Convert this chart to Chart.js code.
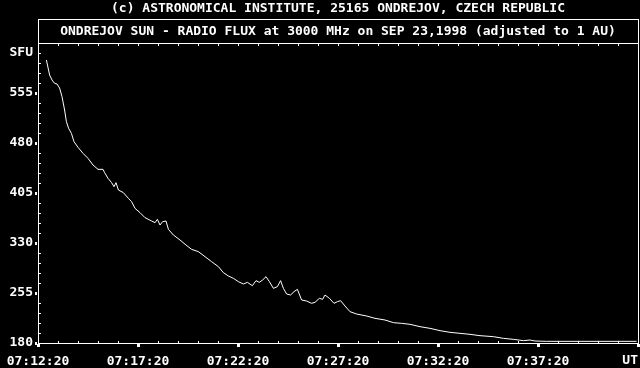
<!DOCTYPE html>
<html>
<head>
    <title>Ondrejov Sun - Radio Flux</title>
    <style>
        html, body {
            margin: 0;
            padding: 0;
            background: #000;
        }
        canvas {
            display: block;
            background: #000;
        }
    </style>
</head>
<body>
    <script src="https://cdn.jsdelivr.net/npm/chart.js@4/dist/chart.umd.min.js"></script>
    <canvas id="fluxChart" width="640" height="368"></canvas>

    <script>
        // minutes after 07:12:20 UT
        const minutes = [
            0.42, 0.58, 0.70, 0.83, 0.95, 1.08, 1.20, 1.33, 1.42, 1.53,
            1.67, 1.80, 2.00, 2.25, 2.50, 2.75, 3.00, 3.25, 3.33, 3.50,
            3.68, 3.80, 3.90, 4.02, 4.27, 4.52, 4.68, 4.85, 5.10, 5.35,
            5.68, 5.85, 5.97, 6.10, 6.23, 6.40, 6.52, 6.77, 7.10, 7.40,
            7.68, 8.02, 8.35, 8.68, 9.02, 9.27, 9.52, 9.77, 10.02, 10.27,
            10.47, 10.72, 10.90, 11.07, 11.23, 11.40, 11.57, 11.77, 11.97, 12.13,
            12.27, 12.43, 12.63, 12.80, 12.97, 13.18, 13.43, 13.68, 13.85, 14.07,
            14.23, 14.35, 14.57, 14.80, 14.97, 15.13, 15.35, 15.60, 15.93, 16.43,
            16.85, 17.35, 17.77, 18.18, 18.60, 19.10, 19.60, 20.10, 20.60, 21.10,
            21.60, 22.10, 22.77, 23.27, 23.77, 24.27, 24.60, 24.85, 25.43, 29.93
        ];
        // solar flux units
        const flux = [
            604.5, 582, 574.5, 569.5, 568.5, 562.5, 549.5, 529.5, 512, 502,
            494.5, 482, 473.5, 464.5, 457, 447, 440.5, 440.5, 435.5, 427,
            420.5, 414.5, 420.5, 409.5, 405.5, 397, 392, 382, 375.5, 368,
            363, 360.5, 365.5, 357, 362, 363, 350.5, 342, 334.5, 327,
            320.5, 317, 309.5, 302, 294.5, 285.5, 280.5, 277, 272, 268.5,
            271, 266, 273.5, 271, 274.5, 279.5, 272, 262, 264.5, 273.5,
            262, 253.5, 252, 257, 260.5, 244.5, 243, 239.5, 241, 247,
            245.5, 252, 247, 239.5, 242, 243.5, 235.5, 227, 223.5, 220.5,
            217, 214.5, 210.5, 209.5, 208, 204.5, 202, 198.5, 196, 194.5,
            193, 191, 189.5, 187, 185.5, 183.5, 184.5, 183, 182.5, 182.5
        ];
        const timeLabels = ['07:12:20', '07:17:20', '07:22:20', '07:27:20', '07:32:20', '07:37:20'];
        const sfuTicks = [180, 255, 330, 405, 480, 555];
        const unitY = 'SFU';
        const unitX = 'UT';
        const title1 = '(c) ASTRONOMICAL INSTITUTE, 25165 ONDREJOV, CZECH REPUBLIC';
        const title2 = 'ONDREJOV SUN - RADIO FLUX at 3000 MHz on SEP 23,1998 (adjusted to 1 AU)';

        const FONT = 'bold 13px "DejaVu Sans Mono", "Liberation Mono", monospace';

        Chart.defaults.font.family = '"DejaVu Sans Mono", "Liberation Mono", monospace';
        Chart.defaults.font.size = 13;
        Chart.defaults.font.weight = 'bold';
        Chart.defaults.color = '#fff';

        // frame, titles and the little tick marks of the old plot
        const framePlugin = {
            id: 'frame',
            beforeDraw(chart) {
                const ctx = chart.ctx;
                ctx.save();
                ctx.fillStyle = '#000';
                ctx.fillRect(0, 0, chart.width, chart.height);
                ctx.restore();
            },
            afterDraw(chart) {
                const ctx = chart.ctx;
                const a = chart.chartArea;
                const x = chart.scales.x;
                const y = chart.scales.y;
                const L = Math.round(a.left), R = Math.round(a.right);
                const T = Math.round(a.top), B = Math.round(a.bottom);
                const boxTop = T - 24;

                ctx.save();
                ctx.fillStyle = '#fff';
                // title box + plot frame
                ctx.fillRect(L, boxTop, R - L + 1, 1);
                ctx.fillRect(L, T, R - L + 1, 1);
                ctx.fillRect(L, B, R - L + 1, 1);
                ctx.fillRect(L, boxTop, 1, B - boxTop + 1);
                ctx.fillRect(R, boxTop, 1, B - boxTop + 1);

                // x ticks (one per minute)
                for (let m = 0; m <= 30; m++) {
                    const px = Math.round(x.getPixelForValue(m));
                    if (m % 5 === 0) {
                        ctx.fillRect(px - 1, B + 1, 3, 3);
                    } else {
                        ctx.fillRect(px, B - 2, 1, 2);
                    }
                    if (m > 0 && m < 30) ctx.fillRect(px, T + 1, 1, 2);
                }
                // y ticks (every 15 SFU)
                for (let v = 180; v <= 630; v += 15) {
                    const py = Math.round(y.getPixelForValue(v));
                    if (sfuTicks.includes(v)) {
                        ctx.fillRect(L - 3, py - 1, 2, 3);
                    } else if (v < 630) {
                        ctx.fillRect(L + 1, py, 2, 1);
                    }
                }

                // titles
                ctx.font = FONT;
                ctx.textAlign = 'center';
                ctx.textBaseline = 'middle';
                const cx = (L + R) / 2;
                ctx.fillText(title1, cx, boxTop - 10);
                ctx.fillText(title2, cx, boxTop + 13);

                // unit on time axis
                ctx.textAlign = 'right';
                ctx.fillText(unitX, R, B + 18);
                ctx.restore();
            }
        };

        new Chart('fluxChart', {
            type: 'line',
            data: {
                datasets: [{
                    data: minutes.map((m, i) => ({ x: m, y: flux[i] })),
                    borderColor: '#fff',
                    borderWidth: 1,
                    pointRadius: 0,
                    tension: 0,
                    fill: false
                }]
            },
            options: {
                responsive: false,
                animation: false,
                devicePixelRatio: 1,
                layout: { padding: { left: 0, right: 2, top: 43, bottom: 0 } },
                plugins: {
                    legend: { display: false },
                    tooltip: { enabled: false }
                },
                scales: {
                    x: {
                        type: 'linear',
                        min: 0,
                        max: 30,
                        grid: { display: false, drawTicks: false },
                        border: { display: false },
                        afterFit: s => {
                            s.height = 25;
                            s.paddingLeft = 0;
                            s.paddingRight = 0;
                        },
                        ticks: {
                            stepSize: 1,
                            autoSkip: false,
                            maxRotation: 0,
                            padding: 11,
                            callback: v => (v % 5 === 0 && v < 30) ? timeLabels[v / 5] : ''
                        }
                    },
                    y: {
                        min: 180,
                        max: 630,
                        grid: { display: false, drawTicks: false },
                        border: { display: false },
                        afterFit: s => {
                            s.width = 38;
                            s.paddingTop = 0;
                            s.paddingBottom = 0;
                        },
                        ticks: {
                            stepSize: 15,
                            autoSkip: false,
                            padding: 5,
                            callback: v => sfuTicks.includes(v) ? String(v) : (v === 615 ? unitY : '')
                        }
                    }
                }
            },
            plugins: [framePlugin]
        });
    </script>
</body>
</html>
